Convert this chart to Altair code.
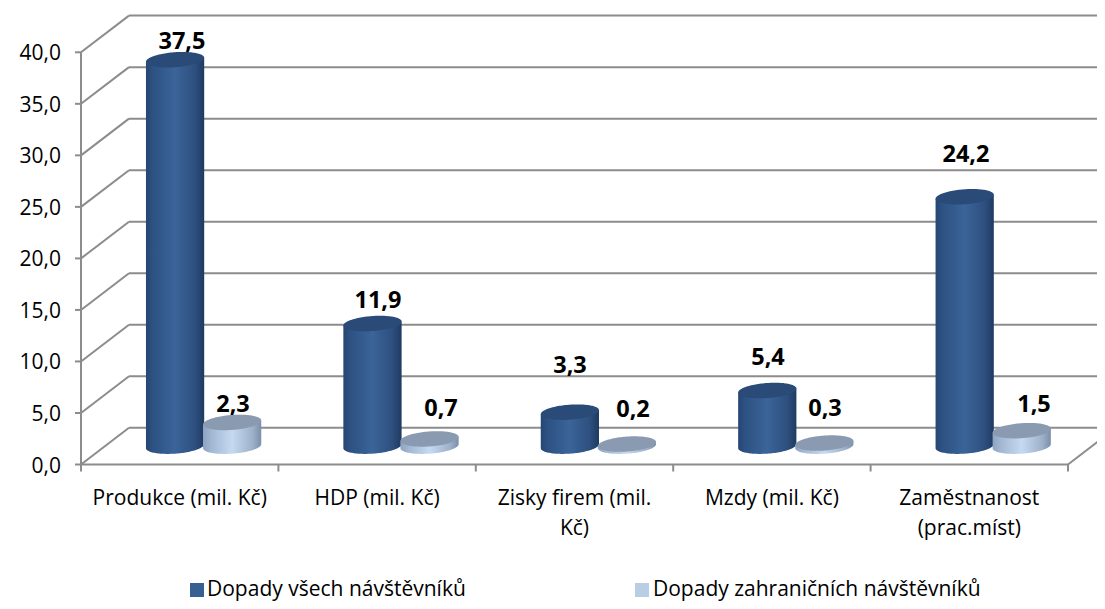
import math
import altair as alt
import pandas as pd

categories_l1 = ["Produkce (mil. Kč)", "HDP (mil. Kč)", "Zisky firem (mil.", "Mzdy (mil. Kč)", "Zaměstnanost"]
categories_l2 = ["", "", "Kč)", "", "(prac.míst)"]
all_visitors = [37.5, 11.9, 3.3, 5.4, 24.2]
foreign_visitors = [2.3, 0.7, 0.2, 0.3, 1.5]
y_ticks = [0, 5, 10, 15, 20, 25, 30, 35, 40]
series_names = ["Dopady všech návštěvníků", "Dopady zahraničních návštěvníků"]

# layout: one x unit is one category, y unit is the value axis
W, H = 1089, 593
PX_X, PX_Y = 197.4, 10.305
X0, Y0 = 81, 464.5
def xv(px): return (px - X0) / PX_X
def yv(py): return (Y0 - py) / PX_Y
DX, DY = xv(X0 + 48), 36.7 / PX_Y
xs = alt.Scale(domain=[xv(8), xv(8 + W)], nice=False, zero=False)
ys = alt.Scale(domain=[yv(8 + H), yv(8)], nice=False, zero=False)
X = lambda f="x": alt.X(f"{f}:Q", scale=xs, axis=None)
Y = lambda f="y": alt.Y(f"{f}:Q", scale=ys, axis=None)
FONT = "Open Sans"
GRID = "#8c8c8c"

def segs(rows, width=2):
    return alt.Chart(pd.DataFrame(rows, columns=["x", "y", "x2", "y2"])).mark_rule(
        color=GRID, strokeWidth=width, clip=True
    ).encode(x=X(), y=Y(), x2="x2:Q", y2="y2:Q")

n = len(all_visitors)
rows = []
for t in y_ticks:
    rows.append((0, t, DX, t + DY))
    rows.append((DX, t + DY, xv(1105), t + DY))
    rows.append((xv(X0 - 6), t, 0, t))
rows += [(0, 0, 0, 40), (0, 0, n, 0), (n, 0, n + DX, DY)]
for i in range(n + 1):
    rows.append((i, 0, i, yv(Y0 + 7)))
grid = segs(rows)

def cylinder_frames(vals, center):
    body, top = [], []
    rx, b, tilt = 0.1475, 7.5 / PX_Y, 2.0 / PX_Y
    base_x, base_y = DX / 2, DY / 2
    for i, v in enumerate(vals):
        cx = i + center + base_x
        for k in range(61):
            u = -math.cos(math.pi * k / 60)
            s = math.sqrt(max(0, 1 - u * u))
            x = cx + rx * u
            low = base_y + tilt * u
            body.append(dict(c=i, x=x, y=low + v, y2=low - b * s))
            top.append(dict(c=i, x=x, y=low + v + b * s, y2=low + v - b * s))
    return pd.DataFrame(body), pd.DataFrame(top)

def cyl_layers(vals, center, stops, topc):
    body, top = cylinder_frames(vals, center)
    g = alt.Gradient(gradient="linear", x1=0, x2=1, y1=0, y2=0,
                     stops=[alt.GradientStop(offset=o, color=c) for o, c in stops])
    a = alt.Chart(body).mark_area(color=g, interpolate="linear").encode(
        x=X(), y=Y(), y2="y2:Q", detail="c:N")
    t = alt.Chart(top).mark_area(color=topc, interpolate="linear").encode(
        x=X(), y=Y(), y2="y2:Q", detail="c:N")
    return [a, t]

blue = cyl_layers(all_visitors, 0.355,
                  [(0, "#264673"), (0.12, "#2d5283"), (0.5, "#3b6499"), (0.85, "#2d4f7e"), (1, "#1e3a60")], "#2a4a77")
light = cyl_layers(foreign_visitors, 0.644,
                   [(0, "#8ea3bf"), (0.15, "#a3b8d3"), (0.5, "#c5d9f1"), (0.85, "#9db1ca"), (1, "#7c8fa8")], "#8a9ab0")

def text_layer(rows, size, weight="normal", align="center"):
    return alt.Chart(pd.DataFrame(rows, columns=["x", "y", "t"])).mark_text(
        font=FONT, fontSize=size, fontWeight=weight, align=align, baseline="middle", color="black"
    ).encode(x=X(), y=Y(), text="t:N")

def dec(v): return f"{v:.1f}".replace(".", ",")

blue_label_x = [182, 378, 570, 768, 966]
blue_label_y = [42, 301, 366, 358, 155]
light_label_x = [233, 441, 633, 825, 1034]
light_label_y = [405, 409, 410, 409, 405]
vals = [(xv(x), yv(y), dec(v)) for x, y, v in zip(blue_label_x, blue_label_y, all_visitors)]
vals += [(xv(x), yv(y), dec(v)) for x, y, v in zip(light_label_x, light_label_y, foreign_visitors)]
value_text = text_layer(vals, 23.5, "bold")

tick_text = text_layer([(xv(61), yv(Y0 - t * PX_Y + 2), dec(t)) for t in y_ticks], 21, align="right")
cat_rows = [(i + 0.5, yv(499), s) for i, s in enumerate(categories_l1)]
cat_rows += [(i + 0.5, yv(529), s) for i, s in enumerate(categories_l2) if s]
cat_text = text_layer(cat_rows, 21)

leg_y = yv(590)
leg_text = text_layer([(xv(207), leg_y, series_names[0]), (xv(653), leg_y, series_names[1])], 21, align="left")
leg_marks = alt.Chart(pd.DataFrame({
    "x": [xv(197), xv(642)], "y": [leg_y, leg_y], "s": series_names})).mark_point(
    shape="square", filled=True, size=196, opacity=1
).encode(x=X(), y=Y(), color=alt.Color("s:N", legend=None,
         scale=alt.Scale(domain=series_names, range=["#376092", "#b9cde5"])))

chart = alt.layer(grid, *blue, *light, value_text, tick_text, cat_text, leg_marks, leg_text).properties(
    width=W, height=H, padding=0, autosize=alt.AutoSizeParams(type="none"),
    background="white"
).configure_view(stroke=None)

chart.save("out.html", embed_options={"renderer": "svg", "actions": False})
